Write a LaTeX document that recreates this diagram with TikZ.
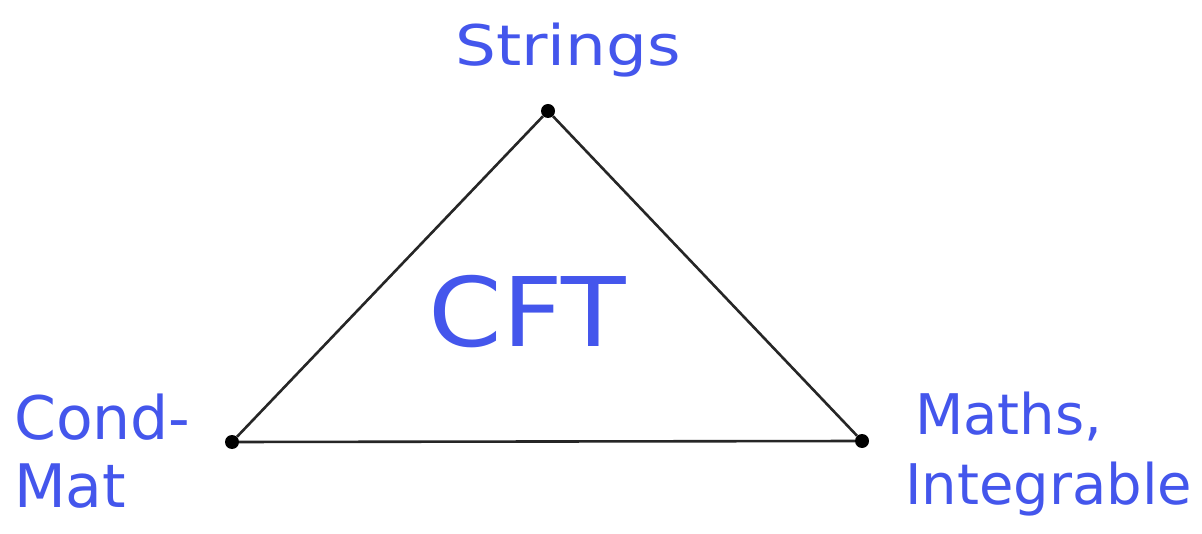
\documentclass[tikz,border=0pt]{standalone}
\usepackage{fontspec}
\usepackage{graphicx}
\setmainfont{DejaVu Sans}
\definecolor{ink}{RGB}{68,86,236}
\begin{document}
\begin{tikzpicture}[x=1pt,y=-1pt,
  lbl/.style={text=ink,inner sep=0pt,align=left},
  vtx/.style={circle,fill=black,inner sep=0pt,minimum size=14pt},
  edge/.style={draw=black!85,line width=2.6pt}]
\useasboundingbox[fill=white] (0,0) rectangle (1202,534);
\node[vtx] (t) at (548,111) {};
\node[vtx] (l) at (232,442) {};
\node[vtx] (r) at (862,441) {};
\draw[edge] (t) -- (l) -- (r) -- (t);
\node[lbl,font=\fontsize{56}{60}\selectfont] (s) at (568,50) {\scalebox{1.15}[1]{Strings}};
\node[lbl,font=\fontsize{96}{100}\selectfont] (c) at (527,312) {\scalebox{1.1}[1]{CFT}};
\node[lbl,anchor=north west,font=\fontsize{60}{68}\selectfont] (cm) at (14,394) {Cond-\\Mat};
\node[lbl,anchor=north west,font=\fontsize{56}{70}\selectfont] (mi) at (905,392) {\hspace*{10pt}Maths,\\Integrable};
\end{tikzpicture}
\end{document}
